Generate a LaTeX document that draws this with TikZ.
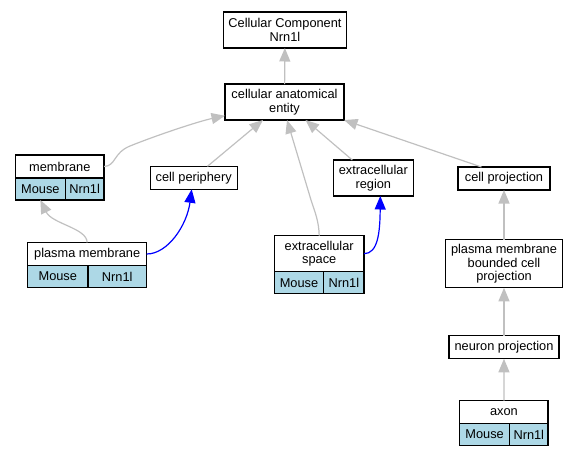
\documentclass[tikz,border=0pt]{standalone}
\usepackage{fontspec}
\setmainfont{Liberation Sans}
\usepackage{tikz}
\usepackage{xcolor}
\usetikzlibrary{shapes,arrows.meta}

\definecolor{tagblue}{HTML}{ADD8E6}
\definecolor{isagray}{HTML}{C0C0C0}

\begin{document}
\begin{tikzpicture}[x=1pt, y=-1pt,
    term/.style={draw, line width=1.3pt, fill=white, align=center, inner sep=0pt, outer sep=0pt,
      font=\fontsize{12.8}{13.7}\selectfont},
    tag/.style={term, fill=tagblue, minimum height=22},
    isa/.style={draw=isagray, line width=1.2pt, -{Triangle[length=13.5pt,width=11pt]}},
    partof/.style={draw=blue, line width=1.2pt, -{Triangle[length=13.5pt,width=11pt]}}]
  \useasboundingbox (0,0) rectangle (579,456);

  % plain terms
  \node[term, minimum width=123, minimum height=36] (cc) at (285,30) {Cellular Component\\Nrn1l};
  \node[term, minimum width=119, minimum height=36] (cae) at (284.5,102) {cellular anatomical\\entity};
  \node[term, minimum width=87, minimum height=23] (cp) at (193.7,177.8) {cell periphery};
  \node[term, minimum width=80, minimum height=36] (er) at (373.3,178) {extracellular\\region};
  \node[term, minimum width=92, minimum height=23] (cproj) at (504,178.5) {cell projection};
  \node[term, minimum width=117, minimum height=48] (pmbcp) at (504,263.8) {plasma membrane\\bounded cell\\projection};
  \node[term, minimum width=110, minimum height=23] (np) at (504,347.3) {neuron projection};

  % annotated terms
  \foreach \nm/\px/\py/\h/\wm/\wg/\lbl in {membrane/59.8/166.5/23/49.7/38.9/membrane,
      pm/87.15/254/23/60.2/58.7/plasma membrane,
      es/319.2/253.7/36/49.4/40.4/{extracellular\\space},
      axon/503.9/412/23/49.8/38.6/axon}{
    \pgfmathsetmacro\wt{\wm+\wg}
    \node[term, minimum width=\wt, minimum height=\h] (\nm) at (\px,\py) {\lbl};
    \node[tag, minimum width=\wm, anchor=north west] (\nm-mouse) at (\nm.south west) {Mouse};
    \node[tag, minimum width=\wg, anchor=north west] (\nm-gene) at (\nm-mouse.north east) {Nrn1l};
  }

  % is_a
  \draw[isa] (cae) -- (cc);
  \draw[isa] (membrane.east) .. controls (116,166) and (113,153) .. (130,146)
    .. controls (160,134) and (200,121) .. (cae.-167);
  \draw[isa] (cp) -- (cae);
  \draw[isa] (es.north) .. controls (319,222) and (315,212) .. (311,200) -- (cae.-82);
  \draw[isa] (er) -- (cae);
  \draw[isa] (cproj.153) -- (cae.south east);
  \draw[isa] (pm.north) .. controls (87,228) and (52,224) .. (membrane-mouse.south);
  \draw[isa] (pmbcp) -- (cproj);
  \draw[isa] (np) -- (pmbcp);
  \draw[isa] (axon) -- (np);

  % part_of
  \draw[partof] (pm.east) .. controls (168,254) and (187,225) .. ([xshift=-2pt]cp.south);
  \draw[partof] (es.east) .. controls (378,253.7) and (380,232) .. ([xshift=7pt]er.south);
\end{tikzpicture}
\end{document}
